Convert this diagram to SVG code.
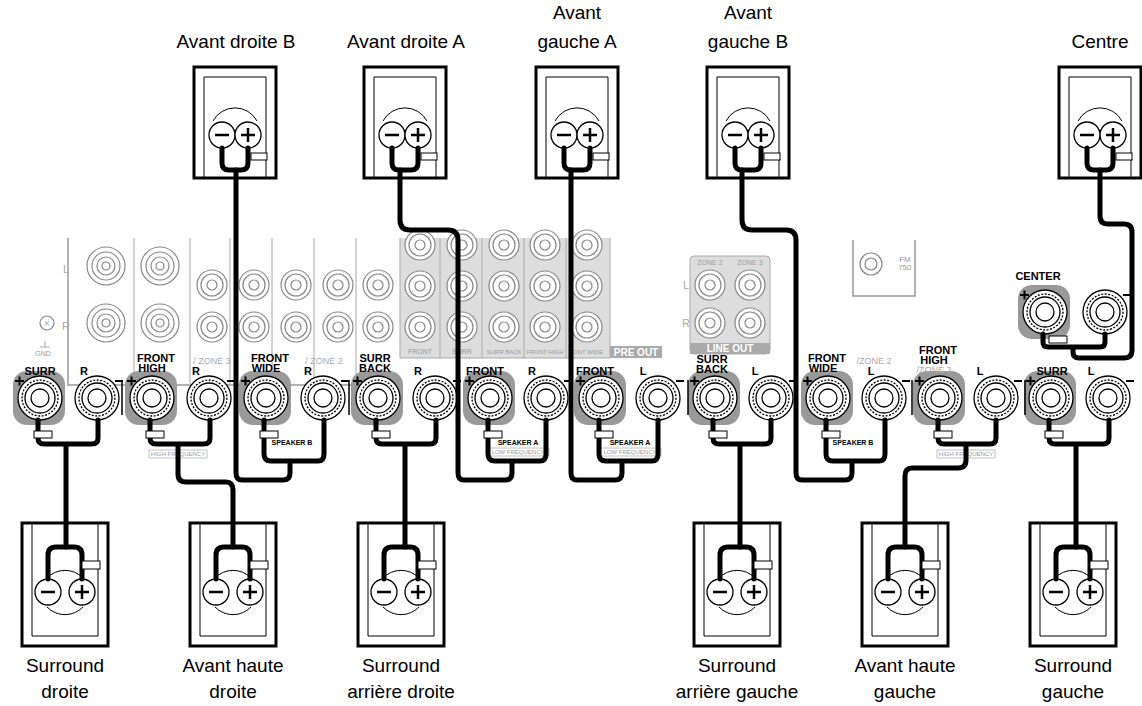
<svg xmlns="http://www.w3.org/2000/svg" width="1142" height="706" viewBox="0 0 1142 706">
<style>
.lbl{font-family:"Liberation Sans",Arial,sans-serif;font-size:19px;fill:#000;text-anchor:middle}
.tl{font-family:"Liberation Sans",Arial,sans-serif;font-size:11px;font-weight:bold;fill:#000;text-anchor:middle}
.gl{font-family:"Liberation Sans",Arial,sans-serif;font-size:11px;fill:#aaa;text-anchor:middle}
.sm{font-family:"Liberation Sans",Arial,sans-serif;font-size:7px;font-weight:bold;fill:#000;text-anchor:middle}
.sg{font-family:"Liberation Sans",Arial,sans-serif;font-size:6px;fill:#999;text-anchor:middle}
.w{fill:none;stroke:#000;stroke-width:5;stroke-linejoin:round;stroke-linecap:round}
.pl{fill:none;stroke:#999;stroke-width:1.5}
.jk{fill:#fff;stroke:#888;stroke-width:1.2}
.box{fill:#fff;stroke:#000;stroke-width:3}
.inb{fill:none;stroke:#000;stroke-width:1}
.tc{fill:#fff;stroke:#000;stroke-width:1.3}
</style>
<defs>
<g id="term"><circle r="22" class="tc"/><circle r="18" class="tc" stroke-dasharray="2 1.5"/><circle r="15" class="tc"/><circle r="9" class="tc"/></g>
<g id="plus"><rect x="-27" y="-27" width="52" height="54" rx="14" fill="#999"/><use href="#term"/><path d="M-25-17h9M-20.5-21.5v9" stroke="#000" stroke-width="2"/></g>
<g id="minus"><use href="#term"/><path d="M18-17h8" stroke="#000" stroke-width="2"/></g>
<g id="jack"><circle r="15" class="jk"/><circle r="11" class="jk"/><circle r="5" class="jk"/></g>
<g id="bjack"><circle r="19" class="jk"/><circle r="14" class="jk"/><circle r="9" class="jk"/><circle r="4" class="jk"/></g>
<g id="spkT"><rect x="-41" y="0" width="82" height="111" class="box"/><path d="M-31 111V10h62v101" class="inb"/><path d="M-22 54A25 25 0 0 1 22 54" class="inb"/><circle cx="-13" cy="68" r="13" class="tc"/><circle cx="13" cy="68" r="13" class="tc"/><path d="M-20 68h14M6 68h14M13 61v14" stroke="#000" stroke-width="2.5"/><rect x="16" y="86" width="16" height="7" fill="#fff" stroke="#000"/><path d="M-13 81V96q0 7 7 7h12q7 0 7-7V81" class="w"/></g>
<g id="spkB"><rect x="-43" y="0" width="86" height="123" class="box"/><path d="M-33 0V113h66V0" class="inb"/><path d="M-18 55A25 25 0 0 1 18 55M-18 84A25 25 0 0 0 18 84" class="inb"/><circle cx="-17" cy="69" r="13" class="tc"/><circle cx="17" cy="69" r="13" class="tc"/><path d="M-24 69h14M10 69h14M17 62v14" stroke="#000" stroke-width="2.5"/><path d="M-17 56V32q0-8 8-8h18q8 0 8 8v24" class="w"/><rect x="17" y="38" width="18" height="8" fill="#fff" stroke="#000"/></g>
</defs>
<g id="panel">
<path d="M68 238V385H395" class="pl"/>
<path d="M400 238V358H610V238" fill="#ddd" stroke="#aaa"/>
<rect x="610" y="346" width="52" height="12" fill="#aaa"/>
<text x="636" y="356" class="gl" style="fill:#fff;font-weight:bold;font-size:10px">PRE OUT</text>
<g fill="none" stroke="#aaa"><path d="M134 238V385M190 238V385M230 238V385M272 238V385M314 238V385M356 238V385M440 238V358M482 238V358M524 238V358M566 238V358"/></g>
<use href="#bjack" x="106" y="266"/><use href="#bjack" x="106" y="323"/><use href="#bjack" x="160" y="266"/><use href="#bjack" x="160" y="323"/>
<use href="#jack" x="212" y="285"/><use href="#jack" x="212" y="327"/><use href="#jack" x="254" y="285"/><use href="#jack" x="254" y="327"/><use href="#jack" x="296" y="285"/><use href="#jack" x="296" y="327"/><use href="#jack" x="338" y="285"/><use href="#jack" x="338" y="327"/><use href="#jack" x="378" y="285"/><use href="#jack" x="378" y="327"/>
<use href="#jack" x="420" y="245"/><use href="#jack" x="420" y="286"/><use href="#jack" x="420" y="327"/><use href="#jack" x="462" y="245"/><use href="#jack" x="462" y="286"/><use href="#jack" x="462" y="327"/><use href="#jack" x="504" y="245"/><use href="#jack" x="504" y="286"/><use href="#jack" x="504" y="327"/><use href="#jack" x="545" y="245"/><use href="#jack" x="545" y="286"/><use href="#jack" x="545" y="327"/><use href="#jack" x="587" y="245"/><use href="#jack" x="587" y="286"/><use href="#jack" x="587" y="327"/>
<text x="420" y="354" class="sg" style="font-size:7px">FRONT</text><text x="462" y="354" class="sg" style="font-size:7px">SURR</text><text x="504" y="354" class="sg" style="font-size:6px">SURR BACK</text><text x="545" y="354" class="sg" style="font-size:6px">FRONT HIGH</text><text x="588" y="354" class="sg" style="font-size:6px">ONT WIDE</text>
<text x="66" y="273" class="gl">L</text><text x="66" y="330" class="gl">R</text>
<circle cx="47" cy="323" r="7" class="jk"/><text x="47" y="327" class="gl" style="font-size:10px">×</text><text x="43" y="356" class="sg" style="font-size:7px">GND</text><path d="M40 347h10M45 341v6" stroke="#aaa"/>
<rect x="690" y="256" width="80" height="98" rx="4" fill="#ddd" stroke="#aaa"/><rect x="690" y="343" width="80" height="11" fill="#aaa"/>
<text x="730" y="352" class="gl" style="fill:#fff;font-weight:bold;font-size:10px">LINE OUT</text>
<text x="710" y="265" class="sg" style="font-size:7px">ZONE 2</text><text x="750" y="265" class="sg" style="font-size:7px">ZONE 3</text>
<use href="#jack" x="710" y="285"/><use href="#jack" x="710" y="323"/><use href="#jack" x="750" y="285"/><use href="#jack" x="750" y="323"/>
<text x="686" y="289" class="gl">L</text><text x="686" y="327" class="gl">R</text>
<path d="M853 240V296H915V240" class="pl"/><circle cx="871" cy="264" r="11" class="jk"/><circle cx="871" cy="264" r="6" class="jk"/><text x="905" y="262" class="sg" style="font-size:8px">FM</text><text x="905" y="270" class="sg" style="font-size:7px">75Ω</text>
</g>
<g id="terminals">
<use href="#plus" x="40" y="398"/><use href="#minus" x="97" y="398"/>
<use href="#plus" x="152" y="398"/><use href="#minus" x="209" y="398"/>
<use href="#plus" x="266" y="398"/><use href="#minus" x="323" y="398"/>
<use href="#plus" x="378" y="398"/><use href="#minus" x="435" y="398"/>
<use href="#plus" x="490" y="398"/><use href="#minus" x="546" y="398"/>
<use href="#plus" x="601" y="398"/><use href="#minus" x="658" y="398"/>
<use href="#plus" x="715" y="398"/><use href="#minus" x="771" y="398"/>
<use href="#plus" x="828" y="398"/><use href="#minus" x="884" y="398"/>
<use href="#plus" x="940" y="398"/><use href="#minus" x="996" y="398"/>
<use href="#plus" x="1051" y="398"/><use href="#minus" x="1108" y="398"/>
<use href="#plus" x="1045" y="312"/><use href="#minus" x="1105" y="312"/>
<path d="M122 380v35M236 380v35M349 380v35M688 380v35M912 380v35M1025 380v35" stroke="#000" stroke-width="1.5"/>
<text x="40" y="375" class="tl">SURR</text><text x="84" y="375" class="tl">R</text>
<text x="156" y="362" class="tl">FRONT</text><text x="152" y="372" class="tl">HIGH</text><text x="196" y="375" class="tl">R</text><text x="212" y="364" class="gl" style="font-size:9px">/ ZONE 3</text>
<text x="270" y="362" class="tl">FRONT</text><text x="266" y="372" class="tl">WIDE</text><text x="308" y="375" class="tl">R</text><text x="324" y="364" class="gl" style="font-size:9px">/ ZONE 2</text>
<text x="375" y="362" class="tl">SURR</text><text x="375" y="372" class="tl">BACK</text><text x="418" y="375" class="tl">R</text>
<text x="485" y="375" class="tl">FRONT</text><text x="532" y="375" class="tl">R</text>
<text x="595" y="375" class="tl">FRONT</text><text x="643" y="375" class="tl">L</text>
<text x="712" y="363" class="tl">SURR</text><text x="712" y="373" class="tl">BACK</text><text x="755" y="375" class="tl">L</text>
<text x="827" y="362" class="tl">FRONT</text><text x="823" y="372" class="tl">WIDE</text><text x="871" y="375" class="tl">L</text><text x="874" y="364" class="gl" style="font-size:9px">/ZONE 2</text>
<text x="938" y="354" class="tl">FRONT</text><text x="934" y="364" class="tl">HIGH</text><text x="934" y="373" class="gl" style="font-size:9px">/ZONE 3</text><text x="980" y="375" class="tl">L</text>
<text x="1052" y="375" class="tl">SURR</text><text x="1091" y="375" class="tl">L</text>
<text x="1038" y="280" class="tl">CENTER</text>
<text x="292" y="445" class="sm">SPEAKER B</text><text x="518" y="445" class="sm">SPEAKER A</text><text x="518" y="454" class="sg">LOW FREQUENCY</text><rect x="487" y="448" width="62" height="8" fill="none" stroke="#aaa" stroke-width="0.7"/>
<text x="630" y="445" class="sm">SPEAKER A</text><text x="630" y="454" class="sg">LOW FREQUENCY</text><rect x="599" y="448" width="62" height="8" fill="none" stroke="#aaa" stroke-width="0.7"/>
<text x="853" y="445" class="sm">SPEAKER B</text>
<text x="178" y="456" class="sg">HIGH FREQUENCY</text><rect x="149" y="450" width="58" height="8" fill="none" stroke="#aaa" stroke-width="0.7"/>
<text x="966" y="456" class="sg">HIGH FREQUENCY</text><rect x="937" y="450" width="58" height="8" fill="none" stroke="#aaa" stroke-width="0.7"/>
</g>
<g id="speakers">
<g id="spk-adb"><use href="#spkT" x="235" y="67"/><text x="236" y="48" class="lbl">Avant droite B</text></g>
<g id="spk-ada"><use href="#spkT" x="405" y="67"/><text x="406" y="48" class="lbl">Avant droite A</text></g>
<g id="spk-aga"><use href="#spkT" x="577" y="67"/><text x="577" y="19" class="lbl">Avant</text><text x="577" y="48" class="lbl">gauche A</text></g>
<g id="spk-agb"><use href="#spkT" x="748" y="67"/><text x="748" y="19" class="lbl">Avant</text><text x="748" y="48" class="lbl">gauche B</text></g>
<g id="spk-c"><use href="#spkT" x="1100" y="67"/><text x="1100" y="48" class="lbl">Centre</text></g>
<g id="spk-sd"><use href="#spkB" x="65" y="523"/><text x="65" y="672" class="lbl">Surround</text><text x="65" y="698" class="lbl">droite</text></g>
<g id="spk-ahd"><use href="#spkB" x="233" y="523"/><text x="233" y="672" class="lbl">Avant haute</text><text x="233" y="698" class="lbl">droite</text></g>
<g id="spk-sad"><use href="#spkB" x="401" y="523"/><text x="401" y="672" class="lbl">Surround</text><text x="401" y="698" class="lbl">arrière droite</text></g>
<g id="spk-sag"><use href="#spkB" x="737" y="523"/><text x="737" y="672" class="lbl">Surround</text><text x="737" y="698" class="lbl">arrière gauche</text></g>
<g id="spk-ahg"><use href="#spkB" x="905" y="523"/><text x="905" y="672" class="lbl">Avant haute</text><text x="905" y="698" class="lbl">gauche</text></g>
<g id="spk-sg"><use href="#spkB" x="1073" y="523"/><text x="1073" y="672" class="lbl">Surround</text><text x="1073" y="698" class="lbl">gauche</text></g>
</g>
<g id="connectors">
<path class="w" d="M38 420v18q0 6 6 6h48q6 0 6-6v-18M66 444V547"/>
<path class="w" d="M150 420v18q0 6 6 6h48q6 0 6-6v-18M178 444v30q0 8 8 8h40q7 0 7 8v57"/>
<path class="w" d="M264 420v34q0 7 7 7h47q6 0 6-7v-34M290 461v12q0 7-7 7h-41q-6 0-6-7V170"/>
<path class="w" d="M376 420v18q0 6 6 6h48q6 0 6-6v-18M405 444V547"/>
<path class="w" d="M488 420v34q0 7 7 7h45q6 0 6-7v-34M512 461v12q0 7-7 7h-41q-6 0-6-7V240q0-10-10-10h-38q-10 0-10-10v-50"/>
<path class="w" d="M599 420v34q0 7 7 7h46q6 0 6-7v-34M622 461v12q0 7-7 7h-38q-6 0-6-7V170"/>
<path class="w" d="M713 420v18q0 6 6 6h46q6 0 6-6v-18M740 444V547"/>
<path class="w" d="M826 420v34q0 7 7 7h46q6 0 6-7v-34M852 461v12q0 7-7 7h-43q-6 0-6-7V240q0-10-10-10h-34q-10 0-10-10v-50"/>
<path class="w" d="M938 420v18q0 6 6 6h46q6 0 6-6v-18M966 444v16q0 8-8 8h-46q-7 0-7 8v71"/>
<path class="w" d="M1049 420v18q0 6 6 6h48q6 0 6-6v-18M1076 444V547"/>
<path class="w" d="M1043 334v8q0 5 5 5h52q5 0 5-5v-8M1073 347v5q0 6 6 6h45q8 0 8-8V232q0-8-8-8h-16q-8 0-8-8v-46"/>
<rect x="34" y="431" width="18" height="7" fill="#fff" stroke="#000"/><rect x="146" y="431" width="18" height="7" fill="#fff" stroke="#000"/><rect x="260" y="431" width="18" height="7" fill="#fff" stroke="#000"/><rect x="372" y="431" width="18" height="7" fill="#fff" stroke="#000"/><rect x="484" y="431" width="18" height="7" fill="#fff" stroke="#000"/><rect x="595" y="431" width="18" height="7" fill="#fff" stroke="#000"/><rect x="709" y="431" width="18" height="7" fill="#fff" stroke="#000"/><rect x="822" y="431" width="18" height="7" fill="#fff" stroke="#000"/><rect x="934" y="431" width="18" height="7" fill="#fff" stroke="#000"/><rect x="1045" y="431" width="18" height="7" fill="#fff" stroke="#000"/><rect x="1049" y="336" width="18" height="7" fill="#fff" stroke="#000"/>
</g>
</svg>
